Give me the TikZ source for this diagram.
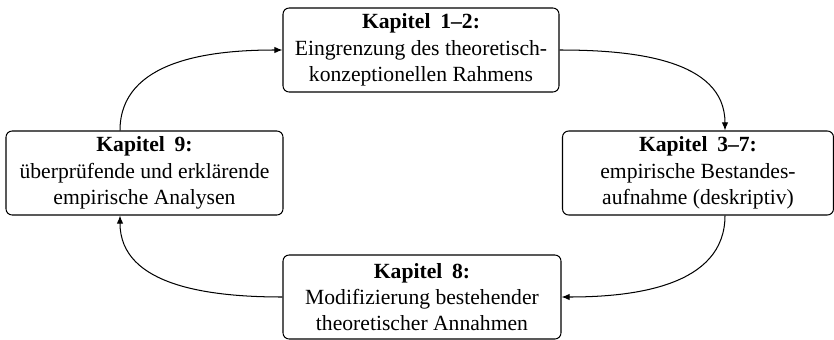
\documentclass[tikz,border=0pt]{standalone}
\usepackage{fontspec}
\setmainfont{Liberation Serif}
\usetikzlibrary{arrows.meta,calc}
\begin{document}
\begin{tikzpicture}[x=0.49pt,y=-0.49pt,
  box/.style={draw,rounded corners=3pt,align=center,inner sep=0pt,minimum height=41.16pt,line width=0.5pt,font=\fontsize{10.6pt}{12.9pt}\selectfont},
  arr/.style={line width=0.5pt,-{Latex[length=4pt,width=3.2pt]}}]
\useasboundingbox (0,0) rectangle (834,340);
\node[box,minimum width=135.24pt] (top) at (421,50) {\textbf{Kapitel\hspace{0.45em}1–2:}\\Eingrenzung des theoretisch-\\konzeptionellen Rahmens};
\node[box,minimum width=132.79pt] (right) at (698,173) {\textbf{Kapitel\hspace{0.45em}3–7:}\\empirische Bestandes-\\aufnahme (deskriptiv)};
\node[box,minimum width=136.22pt] (bottom) at (422,297) {\textbf{Kapitel\hspace{0.45em}8:}\\Modifizierung bestehender\\theoretischer Annahmen};
\node[box,minimum width=135.73pt] (left) at (144.5,173) {\textbf{Kapitel\hspace{0.45em}9:}\\überprüfende und erklärende\\empirische Analysen};
\coordinate (rn) at ($(right.north)+(27,0)$);
\coordinate (rs) at ($(right.south)+(27,0)$);
\coordinate (ls) at ($(left.south)+(-24.5,0)$);
\coordinate (ln) at ($(left.north)+(-24.5,0)$);
\draw[arr] (top.east) to[out=0,in=90] (rn);
\draw[arr] (rs) to[out=-90,in=0] (bottom.east);
\draw[arr] (bottom.west) to[out=180,in=-90] (ls);
\draw[arr] (ln) to[out=90,in=180] (top.west);
\end{tikzpicture}
\end{document}
